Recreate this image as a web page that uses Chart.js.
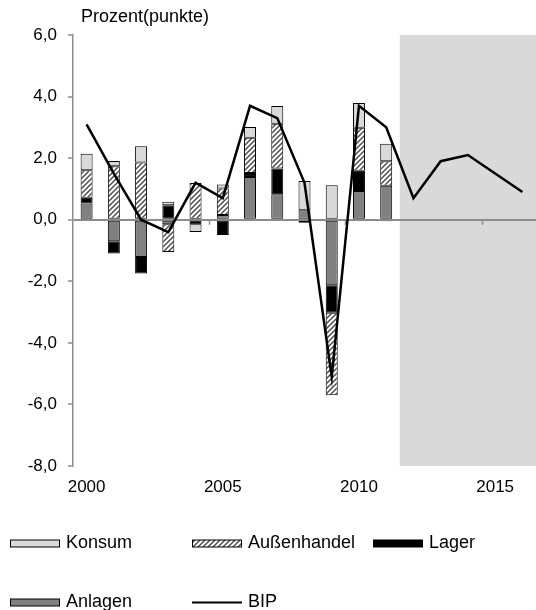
<!DOCTYPE html>
<html>
<head>
<meta charset="utf-8">
<script src="https://cdn.jsdelivr.net/npm/chart.js@4.4.1/dist/chart.umd.min.js"></script>
<style>
  html, body { margin: 0; padding: 0; background: #fff; }
  #wrap { width: 536px; height: 610px; }
</style>
</head>
<body>
<div id="wrap"><canvas id="growthChart" width="536" height="610"></canvas></div>
<script>
// Wachstumsbeiträge zum BIP (Prozentpunkte), ab 2012 nur BIP-Prognose
const years = ["2000", "2001", "2002", "2003", "2004", "2005", "2006", "2007", "2008",
  "2009", "2010", "2011", "2012", "2013", "2014", "2015", "2016"];
const xTickLabels = ["2000", "2005", "2010", "2015"];
const forecastFrom = "2012";

const anlagen      = [0.53, -0.70, -1.21, -0.15, null, 0.15, 1.39, 0.83, 0.31, -2.13, 0.93, 1.10];
const lager        = [0.18, -0.40, -0.54, 0.47, -0.15, -0.50, 0.13, 0.83, null, -0.89, 0.66, -0.05];
const aussenhandel = [0.90, 1.74, 1.86, -0.90, 1.19, 0.86, 1.14, 1.46, -0.10, -2.68, 1.40, 0.80];
const konsum       = [0.53, 0.17, 0.53, 0.11, -0.25, 0.13, 0.35, 0.57, 0.95, 1.12, 0.80, 0.57];
const bip          = [3.1, 1.5, 0.0, -0.4, 1.2, 0.7, 3.7, 3.3, 1.2, -5.1, 3.7, 3.0,
  0.7, 1.9, 2.1, 1.5, 0.9];

const FAMILY = "'Liberation Sans', Arial, sans-serif";
const TICK_FONT = { family: FAMILY, size: 17 };
const TEXT_SIZE = 18;
const AXIS_GREY = "#8c8c8c";

function makeHatch() {
  const c = document.createElement("canvas");
  c.width = 5; c.height = 5;
  const g = c.getContext("2d");
  g.fillStyle = "#fff";
  g.fillRect(0, 0, 5, 5);
  g.strokeStyle = "#4d4d4d";
  g.lineWidth = 1.5;
  g.beginPath();
  g.moveTo(-1, 6); g.lineTo(6, -1);
  g.moveTo(-1, 1); g.lineTo(1, -1);
  g.moveTo(4, 6); g.lineTo(6, 4);
  g.stroke();
  return g.createPattern(c, "repeat");
}

// grey box behind the forecast years
const forecastShade = {
  id: "forecastShade",
  beforeDraw(chart) {
    const { ctx, chartArea, scales: { x } } = chart;
    const i = years.indexOf(forecastFrom);
    const left = (x.getPixelForValue(i - 1) + x.getPixelForValue(i)) / 2;
    ctx.save();
    ctx.fillStyle = "#d9d9d9";
    ctx.fillRect(left, chartArea.top, chartArea.right - left, chartArea.bottom - chartArea.top);
    ctx.restore();
  }
};

// little tick marks under the zero line, every five years
const zeroTicks = {
  id: "zeroTicks",
  beforeDatasetsDraw(chart) {
    const { ctx, scales: { x, y } } = chart;
    const y0 = y.getPixelForValue(0);
    ctx.save();
    ctx.strokeStyle = AXIS_GREY;
    ctx.lineWidth = 1.5;
    ctx.beginPath();
    for (let i = 5; i < years.length; i += 5) {
      const px = Math.round((x.getPixelForValue(i - 1) + x.getPixelForValue(i)) / 2) + 0.5;
      ctx.moveTo(px, y0);
      ctx.lineTo(px, y0 + 5);
    }
    ctx.stroke();
    ctx.restore();
  }
};

// unit label + legend laid out in fixed columns
const legendGrid = {
  id: "legendGrid",
  afterDraw(chart) {
    const { ctx, chartArea } = chart;
    const ds = chart.data.datasets;
    ctx.save();
    ctx.font = `${TEXT_SIZE}px ${FAMILY}`;
    ctx.fillStyle = "#000";
    ctx.textBaseline = "middle";
    ctx.textAlign = "left";
    ctx.fillText("Prozent(punkte)", chartArea.left + 8, chartArea.top - 18);

    const cols = [10, 192, 373];
    const rows = [543.5, 602.5];
    const items = [
      { label: "Konsum", idx: 3, col: 0, row: 0 },
      { label: "Außenhandel", idx: 2, col: 1, row: 0 },
      { label: "Lager", idx: 1, col: 2, row: 0 },
      { label: "Anlagen", idx: 0, col: 0, row: 1 },
      { label: "BIP", idx: 4, col: 1, row: 1 }
    ];
    items.forEach(it => {
      const bx = cols[it.col], by = rows[it.row];
      const d = ds[it.idx];
      if (d.type === "line") {
        ctx.strokeStyle = d.borderColor;
        ctx.lineWidth = 2;
        ctx.beginPath();
        ctx.moveTo(bx, by);
        ctx.lineTo(bx + 50, by);
        ctx.stroke();
      } else {
        ctx.fillStyle = d.backgroundColor;
        ctx.fillRect(bx, by - 3.5, 50, 7);
        ctx.strokeStyle = "#000";
        ctx.lineWidth = 1;
        ctx.strokeRect(bx + 0.5, by - 3.5, 49, 7);
      }
      ctx.fillStyle = "#000";
      ctx.fillText(it.label, bx + 56, by);
    });
    ctx.restore();
  }
};

const barStyle = {
  borderColor: "#000",
  borderWidth: 1,
  borderSkipped: false,
  barPercentage: 0.44,
  categoryPercentage: 1.0,
  order: 1
};

new Chart(document.getElementById("growthChart"), {
  type: "bar",
  data: {
    labels: years,
    datasets: [
      { label: "Anlagen", data: anlagen, backgroundColor: "#808080", ...barStyle },
      { label: "Lager", data: lager, backgroundColor: "#000", ...barStyle },
      { label: "Außenhandel", data: aussenhandel, backgroundColor: makeHatch(), ...barStyle },
      { label: "Konsum", data: konsum, backgroundColor: "#d9d9d9", ...barStyle },
      {
        type: "line",
        label: "BIP",
        data: bip,
        borderColor: "#000",
        borderWidth: 2.5,
        pointRadius: 0,
        tension: 0,
        fill: false,
        order: 0
      }
    ]
  },
  options: {
    responsive: false,
    animation: false,
    layout: { padding: { top: 35, right: 0, bottom: 104, left: 0 } },
    plugins: {
      legend: { display: false },
      tooltip: { enabled: false }
    },
    scales: {
      x: {
        stacked: true,
        offset: true,
        grid: { display: false, drawTicks: false },
        border: { display: false },
        ticks: {
          autoSkip: false,
          maxRotation: 0,
          padding: 11,
          color: "#000",
          font: TICK_FONT,
          callback(value) {
            const lab = this.getLabelForValue(value);
            return xTickLabels.includes(lab) ? lab : "";
          }
        },
        afterFit(scale) { scale.height = 40; }
      },
      y: {
        stacked: true,
        min: -8,
        max: 6,
        ticks: {
          stepSize: 2,
          padding: 11,
          color: "#000",
          font: TICK_FONT,
          callback: v => v.toFixed(1).replace(".", ",")
        },
        grid: {
          drawOnChartArea: true,
          color: c => (c.tick && c.tick.value === 0 ? AXIS_GREY : "rgba(0,0,0,0)"),
          lineWidth: 2,
          tickColor: AXIS_GREY,
          tickLength: 5,
          tickWidth: 1.5
        },
        border: { display: true, color: AXIS_GREY, width: 1.5 },
        afterFit(scale) { scale.width = 73; }
      }
    }
  },
  plugins: [forecastShade, zeroTicks, legendGrid]
});
</script>
</body>
</html>
